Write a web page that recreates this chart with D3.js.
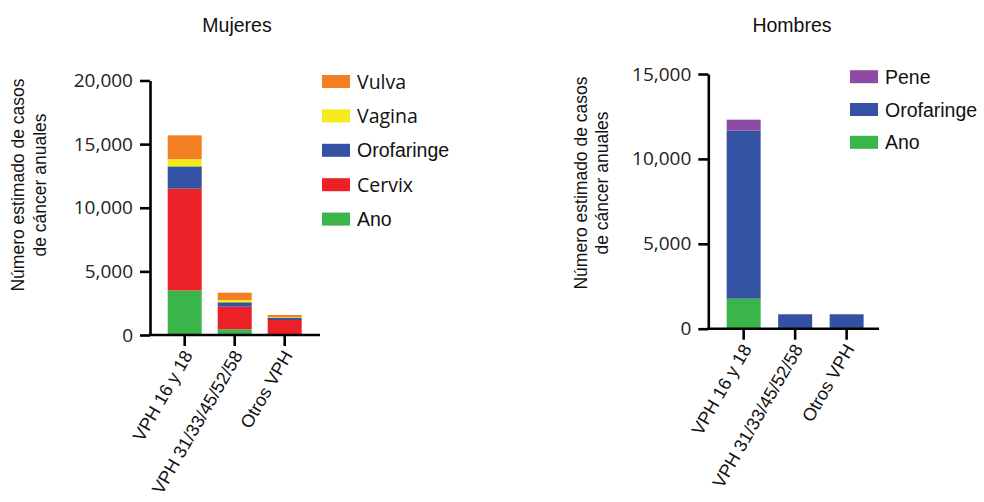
<!DOCTYPE html>
<html>
<head>
<meta charset="utf-8">
<script src="https://cdn.jsdelivr.net/npm/d3@7"></script>
<style>
  html, body { margin: 0; padding: 0; background: #fff; }
  svg { display: block; }
</style>
</head>
<body>
<svg id="chart" width="984" height="502"></svg>
<script>
// ---------- DATA ----------
const categories = ["VPH 16 y 18", "VPH 31/33/45/52/58", "Otros VPH"];

// Mujeres (stack order bottom -> top)
const womenSeries = ["Ano", "Cervix", "Orofaringe", "Vagina", "Vulva"];
const womenAno        = [3500, 450, 30];
const womenCervix     = [8000, 1780, 1150];
const womenOrofaringe = [1750, 340, 160];
const womenVagina     = [570, 180, 50];
const womenVulva      = [1870, 575, 180];
const womenTicks = [0, 5000, 10000, 15000, 20000];

// Hombres (stack order bottom -> top)
const menSeries = ["Ano", "Orofaringe", "Pene"];
const menAno        = [1770, 10, 10];
const menOrofaringe = [9900, 835, 835];
const menPene       = [640, 20, 20];
const menTicks = [0, 5000, 10000, 15000];

const titles = ["Mujeres", "Hombres"];
const yLabelLines = ["Número estimado de casos", "de cáncer anuales"];

// ---------- STYLE ----------
const colors = {
  "Vulva": "#f37f22",
  "Vagina": "#f4ea1c",
  "Orofaringe": "#3452a4",
  "Cervix": "#ec2127",
  "Ano": "#3ab54a",
  "Pene": "#8d4ba5"
};
const legendFont = {
  "Vulva": "'Open Sans'", "Vagina": "'Open Sans'", "Cervix": "'Open Sans'",
  "Orofaringe": "'Liberation Sans', Arial", "Ano": "'Liberation Sans', Arial", "Pene": "'Liberation Sans', Arial"
};

const svg = d3.select("#chart");

function buildRows(seriesNames, arrays) {
  return categories.map((c, i) => {
    const r = { cat: c };
    seriesNames.forEach((s, k) => r[s] = arrays[k][i]);
    return r;
  });
}

function drawPanel(opt) {
  const g = svg.append("g");
  const x = d3.scaleBand().domain(categories)
    .range([opt.x0, opt.x1]).paddingInner(opt.pi).paddingOuter(opt.po);
  const y = d3.scaleLinear().domain([0, opt.ymax]).range([opt.yBottom, opt.yTop]);

  const rows = buildRows(opt.series, opt.arrays);
  const stack = d3.stack().keys(opt.series)(rows);

  g.selectAll("g.layer").data(stack).join("g")
    .attr("class", "layer")
    .attr("fill", d => colors[d.key])
    .selectAll("rect").data(d => d).join("rect")
    .attr("x", d => x(d.data.cat))
    .attr("width", x.bandwidth())
    .attr("y", d => y(d[1]))
    .attr("height", d => Math.max(0, y(d[0]) - y(d[1])));

  // Y axis
  const yAxis = g.append("g")
    .attr("transform", `translate(${opt.x0},0)`)
    .call(d3.axisLeft(y).tickValues(opt.ticks).tickSize(10).tickPadding(7)
      .tickSizeOuter(0).tickFormat(d3.format(",")));
  yAxis.select(".domain").attr("stroke", "#000").attr("stroke-width", 2.6);
  yAxis.selectAll(".tick line").attr("stroke", "#000").attr("stroke-width", 2.6);
  yAxis.selectAll(".tick text")
    .attr("font-family", "'Open Sans', sans-serif")
    .attr("font-size", 19).attr("fill", "#222");

  // X axis
  const xAxis = g.append("g")
    .attr("transform", `translate(0,${opt.yBottom})`)
    .call(d3.axisBottom(x).tickSize(11).tickSizeOuter(0));
  xAxis.select(".domain").remove();
  xAxis.append("line")
    .attr("x1", opt.x0 - 1.3).attr("x2", opt.xAxisEnd)
    .attr("y1", 0).attr("y2", 0)
    .attr("stroke", "#000").attr("stroke-width", 2.6);
  xAxis.selectAll(".tick line").attr("stroke", "#000").attr("stroke-width", 2.6);
  xAxis.selectAll(".tick text")
    .attr("font-family", "'Liberation Sans', Arial, sans-serif")
    .attr("font-size", 18).attr("fill", "#111")
    .attr("text-anchor", "end")
    .attr("dy", "0.35em")
    .attr("transform", "translate(3,17) rotate(-60)")
    .attr("x", 0).attr("y", 0);

  // Title
  g.append("text")
    .attr("x", opt.titleX).attr("y", 32)
    .attr("text-anchor", "middle")
    .attr("font-family", "'Liberation Sans', Arial, sans-serif")
    .attr("font-size", 19.5).attr("fill", "#111")
    .text(opt.title);

  // Y label
  const yl = g.append("text")
    .attr("transform", `translate(${opt.yLabelX},${opt.yLabelY}) rotate(-90)`)
    .attr("text-anchor", "middle")
    .attr("font-family", "'Liberation Sans', Arial, sans-serif")
    .attr("font-size", 17.5).attr("fill", "#111");
  yLabelLines.forEach((t, i) => {
    yl.append("tspan").attr("x", 0).attr("dy", i === 0 ? 0 : opt.yLabelGap).text(t);
  });

  // Legend (top-to-bottom = reverse stack order)
  const legendItems = opt.series.slice().reverse();
  const lg = g.append("g");
  legendItems.forEach((s, i) => {
    const cy = opt.legY + i * opt.legStep;
    lg.append("rect")
      .attr("x", opt.legX).attr("y", cy - 6.5)
      .attr("width", 28).attr("height", 13)
      .attr("fill", colors[s]);
    lg.append("text")
      .attr("x", opt.legX + 35).attr("y", cy)
      .attr("dy", "0.36em")
      .attr("font-family", legendFont[s] + ", sans-serif")
      .attr("font-size", 19.5).attr("fill", "#111")
      .text(s);
  });
}

drawPanel({
  title: titles[0], titleX: 237,
  series: womenSeries,
  arrays: [womenAno, womenCervix, womenOrofaringe, womenVagina, womenVulva],
  ticks: womenTicks, ymax: 20000,
  x0: 150, x1: 319.4, pi: 0.32, po: 0.354, xAxisEnd: 320,
  yBottom: 335, yTop: 80.5,
  yLabelX: 24, yLabelY: 185, yLabelGap: 22,
  legX: 322, legY: 81.5, legStep: 34.4
});

drawPanel({
  title: titles[1], titleX: 792,
  series: menSeries,
  arrays: [menAno, menOrofaringe, menPene],
  ticks: menTicks, ymax: 15000,
  x0: 708.3, x1: 882, pi: 0.34, po: 0.357, xAxisEnd: 879,
  yBottom: 328.7, yTop: 74,
  yLabelX: 587, yLabelY: 183, yLabelGap: 21,
  legX: 850, legY: 76.7, legStep: 32.8
});
</script>
</body>
</html>
